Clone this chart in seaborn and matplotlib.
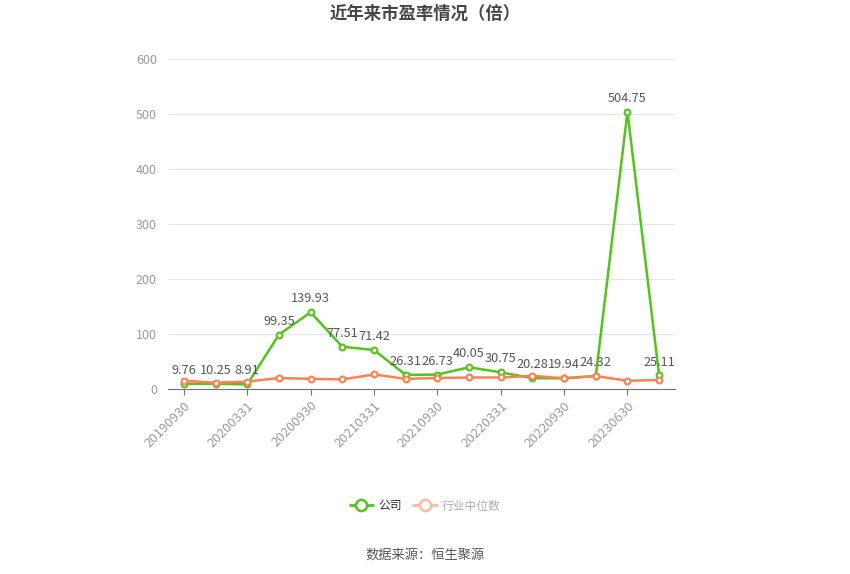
import numpy as np
import pandas as pd
import matplotlib
matplotlib.use("Agg")
import matplotlib.pyplot as plt
from matplotlib.lines import Line2D
import seaborn as sns

dates = ["20190930", "20191231", "20200331", "20200630", "20200930", "20201231",
         "20210331", "20210630", "20210930", "20211231", "20220331", "20220630",
         "20220930", "20230331", "20230630", "20230930"]
company = [9.76, 10.25, 8.91, 99.35, 139.93, 77.51, 71.42, 26.31, 26.73, 40.05,
           30.75, 20.28, 19.94, 24.32, 504.75, 25.11]
industry = [15.5, 12.0, 14.0, 20.5, 19.0, 18.0, 27.0, 19.0, 20.5, 21.5,
            21.5, 24.5, 20.0, 24.0, 15.5, 17.0]
y_ticks = [0, 100, 200, 300, 400, 500, 600]

sns.set_theme(style="white")
plt.rcParams['font.family'] = ['Noto Sans CJK SC', 'DejaVu Sans']

green = "#52c41a"
orange = "#ff7f50"

df = pd.DataFrame({"pos": np.arange(len(dates)), "date": dates,
                   "company": company, "industry": industry})

fig = plt.figure(figsize=(8.5, 5.74), dpi=100)
ax = fig.add_axes([168 / 850, 1 - 389.3 / 574, (675 - 168) / 850, (389.3 - 59.3) / 574])

sns.lineplot(data=df, x="pos", y="company", ax=ax, color=green, linewidth=1.8,
             marker="o", markersize=4.2, markerfacecolor="white",
             markeredgecolor=green, markeredgewidth=1.5, zorder=3)
sns.lineplot(data=df, x="pos", y="industry", ax=ax, color=orange, linewidth=1.8,
             marker="o", markersize=4.2, markerfacecolor="white",
             markeredgecolor=orange, markeredgewidth=1.5, zorder=4)

for i, v in enumerate(company):
    ax.annotate(f"{v:.2f}", (i, v), xytext=(0, 5), textcoords="offset points",
                ha="center", va="bottom", fontsize=9.2, color="#555555")

ax.set_xlim(-0.5, len(dates) - 0.5)
ax.set_ylim(0, 600)
ax.set_yticks(y_ticks)
ax.set_yticklabels([str(t) for t in y_ticks], color="#9a9a9a", fontsize=9)
ax.yaxis.grid(True, color="#e0e6f1", linewidth=0.8)
ax.set_axisbelow(True)

xt = list(range(0, len(dates), 2))
ax.set_xticks(xt)
ax.set_xticklabels([dates[i] for i in xt], rotation=45, ha="right",
                   rotation_mode="anchor", color="#9a9a9a", fontsize=9.5)
ax.tick_params(axis="x", length=4, width=0.8, color="#6e7079", pad=3, bottom=True)
ax.tick_params(axis="y", length=0, pad=8)
ax.set_xlabel("")
ax.set_ylabel("")
for s in ["top", "right", "left"]:
    ax.spines[s].set_visible(False)
ax.spines["bottom"].set_color("#6e7079")
ax.spines["bottom"].set_linewidth(0.8)

fig.text(0.5, 1 - 14 / 574, "近年来市盈率情况（倍）", ha="center", va="center",
         fontsize=12.5, fontweight="bold", color="#464646")

handles = [
    Line2D([0], [0], color=green, linewidth=2, marker="o", markersize=8,
           markerfacecolor="white", markeredgecolor=green, markeredgewidth=1.8),
    Line2D([0], [0], color="#ffb8a0", linewidth=2, marker="o", markersize=8,
           markerfacecolor="white", markeredgecolor="#ffb8a0", markeredgewidth=1.8),
]
leg = fig.legend(handles, ["公司", "行业中位数"], loc="center",
                 bbox_to_anchor=(0.5, 1 - 506 / 574), ncol=2, frameon=False,
                 fontsize=8.5, handlelength=2.0, handletextpad=0.4, columnspacing=1.0)
leg.get_texts()[0].set_color("#333333")
leg.get_texts()[1].set_color("#aaaaaa")

fig.text(0.5, 1 - 555 / 574, "数据来源：恒生聚源", ha="center", va="center",
         fontsize=9.5, color="#555555")

fig.savefig("out.png", dpi=100)
